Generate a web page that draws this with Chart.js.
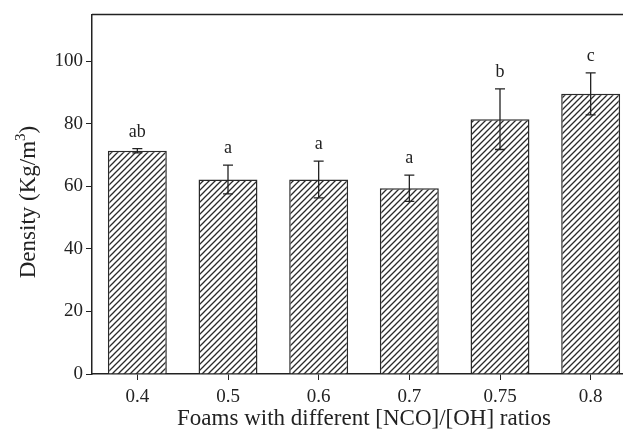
<!DOCTYPE html>
<html>
<head>
<meta charset="utf-8">
<script src="https://cdn.jsdelivr.net/npm/chart.js@4/dist/chart.umd.min.js"></script>
<style>
  html, body { margin: 0; padding: 0; background: #fff; overflow: hidden; }
  #wrap { width: 640px; height: 433px; }
</style>
</head>
<body>
<div id="wrap"><canvas id="chart" width="640" height="433"></canvas></div>
<script>
// values
const ratios = ['0.4', '0.5', '0.6', '0.7', '0.75', '0.8'];
const density = [71.4, 62.2, 62.2, 59.4, 81.5, 89.6];
const densityErr = [0.7, 4.6, 5.9, 4.2, 9.7, 6.7];
const groupLetters = ['ab', 'a', 'a', 'a', 'b', 'c'];
const yTicks = [0, 20, 40, 60, 80, 100];

const ink = '#222';
const serif = "'Liberation Serif', 'Times New Roman', serif";

// diagonal hatch fill
function hatch() {
    const s = 6;
    const c = document.createElement('canvas');
    c.width = s; c.height = s;
    const g = c.getContext('2d');
    g.fillStyle = '#fff';
    g.fillRect(0, 0, s, s);
    g.strokeStyle = '#2a2a2a';
    g.lineWidth = 1.3;
    g.beginPath();
    g.moveTo(0, s); g.lineTo(s, 0);
    g.moveTo(-1, 1); g.lineTo(1, -1);
    g.moveTo(s - 1, s + 1); g.lineTo(s + 1, s - 1);
    g.stroke();
    return g.createPattern(c, 'repeat');
}

const extras = {
    id: 'extras',
    afterDatasetsDraw(chart) {
        const ctx = chart.ctx;
        const x = chart.scales.x, y = chart.scales.y;
        const area = chart.chartArea;
        ctx.save();
        // top frame line
        ctx.strokeStyle = ink;
        ctx.lineWidth = 1.5;
        ctx.beginPath();
        ctx.moveTo(area.left, area.top);
        ctx.lineTo(area.right, area.top);
        ctx.stroke();
        // error bars + letters
        ctx.lineWidth = 1.3;
        ctx.fillStyle = ink;
        ctx.font = '18px ' + serif;
        ctx.textAlign = 'center';
        ctx.textBaseline = 'alphabetic';
        density.forEach((v, i) => {
            const cx = x.getPixelForValue(i);
            const top = y.getPixelForValue(v + densityErr[i]);
            const bot = y.getPixelForValue(v - densityErr[i]);
            ctx.beginPath();
            ctx.moveTo(cx, top); ctx.lineTo(cx, bot);
            ctx.moveTo(cx - 5, top); ctx.lineTo(cx + 5, top);
            ctx.moveTo(cx - 5, bot); ctx.lineTo(cx + 5, bot);
            ctx.stroke();
            ctx.fillText(groupLetters[i], cx, top - 12);
        });
        // y title with a real superscript
        const main = 'Density (Kg/m', sup = '3', end = ')';
        const big = '23px ' + serif, small = '15px ' + serif;
        ctx.font = big;
        const w1 = ctx.measureText(main).width, w3 = ctx.measureText(end).width;
        ctx.font = small;
        const w2 = ctx.measureText(sup).width;
        const total = w1 + w2 + w3;
        ctx.translate(35, 202);
        ctx.rotate(-Math.PI / 2);
        ctx.textAlign = 'left';
        let px = -total / 2;
        ctx.font = big;
        ctx.fillText(main, px, 0);
        px += w1;
        ctx.font = small;
        ctx.fillText(sup, px, -10);
        px += w2;
        ctx.font = big;
        ctx.fillText(end, px, 0);
        ctx.restore();
    }
};

new Chart(document.getElementById('chart'), {
    type: 'bar',
    data: {
        labels: ratios,
        datasets: [{
            data: density,
            backgroundColor: hatch(),
            borderColor: '#2a2a2a',
            borderWidth: 1.5,
            barPercentage: 0.65,
            categoryPercentage: 1
        }]
    },
    options: {
        responsive: false,
        animation: false,
        devicePixelRatio: 1,
        layout: { padding: { top: 12, right: 4, left: 0, bottom: 0 } },
        plugins: { legend: { display: false }, tooltip: { enabled: false } },
        scales: {
            x: {
                grid: { display: true, drawOnChartArea: false, drawTicks: true, tickLength: 6, color: ink, offset: false },
                border: { display: true, color: ink, width: 1.5 },
                ticks: { color: ink, font: { family: serif, size: 19 }, padding: 6 },
                title: { display: true, text: 'Foams with different [NCO]/[OH] ratios', color: ink,
                         font: { family: serif, size: 23 }, padding: { top: 0, bottom: 0 } },
                afterFit(s) { s.height = 59; }
            },
            y: {
                min: 0,
                max: 115,
                afterBuildTicks(s) { s.ticks = yTicks.map(v => ({ value: v })); },
                grid: { display: true, drawOnChartArea: false, drawTicks: true, tickLength: 6, color: ink },
                border: { display: true, color: ink, width: 1.5 },
                ticks: { color: ink, font: { family: serif, size: 19 }, padding: 3 },
                afterFit(s) { s.width = 92; }
            }
        }
    },
    plugins: [extras]
});
</script>
</body>
</html>
